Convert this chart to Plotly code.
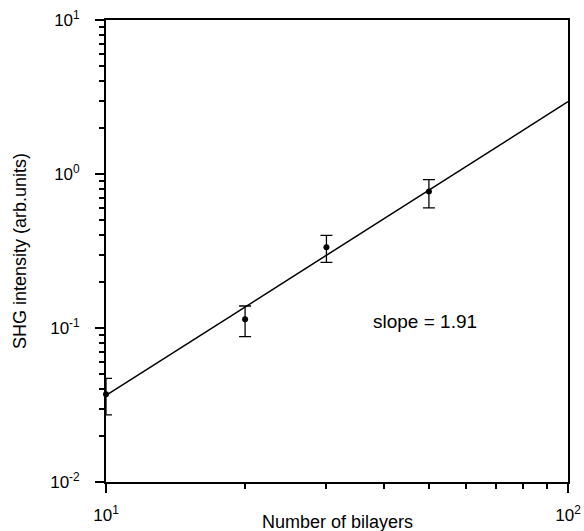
import plotly.graph_objects as go

bilayers = [10, 20, 30, 50]
shg = [0.0372, 0.114, 0.334, 0.771]
err_plus = [0.0471 - 0.0372, 0.139 - 0.114, 0.400 - 0.334, 0.918 - 0.771]
err_minus = [0.0372 - 0.0273, 0.114 - 0.088, 0.334 - 0.267, 0.771 - 0.602]

fit_x = [10, 100]
fit_y = [0.0365, 2.95]

x_ticks = [10, 100]
x_ticktext = ["10<sup>1</sup>", "10<sup>2</sup>"]
y_ticks = [0.01, 0.1, 1, 10]
y_ticktext = ["10<sup>-2</sup>", "10<sup>-1</sup>", "10<sup>0</sup>", "10<sup>1</sup>"]

x_minor = [20, 30, 40, 50, 60, 70, 80, 90]
y_minor = [m * d for d in [0.01, 0.1, 1] for m in range(2, 10)]

FONT = "Liberation Sans"

fig = go.Figure()
fig.add_trace(go.Scatter(
    x=fit_x, y=fit_y, mode="lines",
    line=dict(color="black", width=1.5), showlegend=False, hoverinfo="skip"))
fig.add_trace(go.Scatter(
    x=bilayers, y=shg, mode="markers", cliponaxis=False,
    marker=dict(color="black", size=6),
    error_y=dict(type="data", symmetric=False, array=err_plus, arrayminus=err_minus,
                 color="black", thickness=1.3, width=6),
    showlegend=False))

fig.add_annotation(x=1.69, y=-0.957, xref="x", yref="y", text="slope = 1.91",
                   showarrow=False, xanchor="center", yanchor="middle",
                   font=dict(size=19, color="black", family=FONT))
fig.add_annotation(x=0.5, y=-0.087, xref="paper", yref="paper",
                   text="Number of bilayers", showarrow=False,
                   xanchor="center", yanchor="middle",
                   font=dict(size=18, color="black", family=FONT))
fig.add_annotation(x=-0.186, y=0.5, xref="paper", yref="paper",
                   text="SHG intensity (arb.units)", showarrow=False, textangle=-90,
                   xanchor="center", yanchor="middle",
                   font=dict(size=18, color="black", family=FONT))

axis_common = dict(showline=True, linecolor="black", linewidth=1.8, mirror=True,
                   ticks="outside", tickcolor="black", tickwidth=1.5, ticklen=9,
                   showgrid=False, zeroline=False, automargin=False,
                   tickfont=dict(size=17, color="black", family=FONT))

fig.update_xaxes(type="log", range=[1, 2], tickvals=x_ticks, ticktext=x_ticktext,
                 ticklabelstandoff=8,
                 minor=dict(ticks="outside", tickvals=x_minor, ticklen=5,
                            tickcolor="black", tickwidth=1.5, showgrid=False),
                 **axis_common)
fig.update_yaxes(type="log", range=[-2, 1], tickvals=y_ticks, ticktext=y_ticktext,
                 ticklabelstandoff=12,
                 minor=dict(ticks="outside", tickvals=y_minor, ticklen=5,
                            tickcolor="black", tickwidth=1.5, showgrid=False),
                 **axis_common)

fig.update_layout(width=584, height=531, margin=dict(l=106, r=16, t=20, b=49),
                  plot_bgcolor="white", paper_bgcolor="white")
fig.write_html("out.html")
